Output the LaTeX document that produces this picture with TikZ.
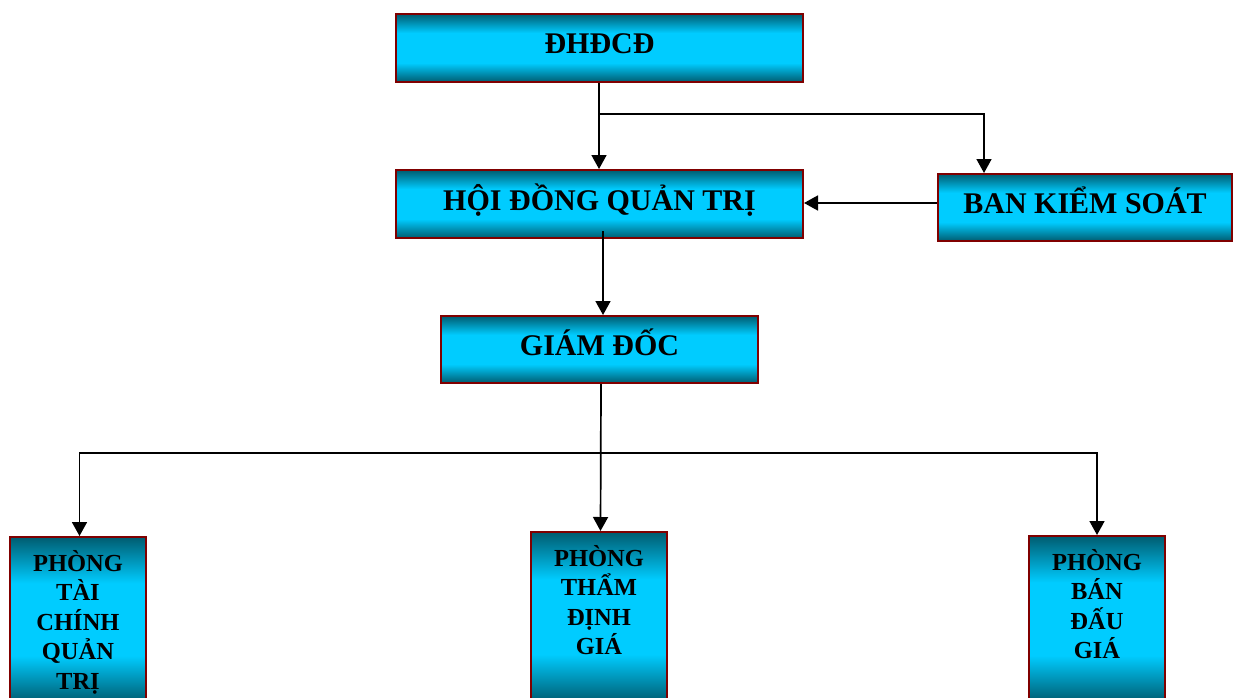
\documentclass[tikz,border=0pt]{standalone}
\usepackage{fontspec}
\setmainfont{Liberation Serif}
\usetikzlibrary{arrows.meta,calc}
\definecolor{boxred}{RGB}{128,0,0}
\definecolor{tealdark}{RGB}{0,92,112}
\definecolor{cyanb}{RGB}{0,204,255}
\pgfdeclareverticalshading{boxshade}{100bp}{color(0bp)=(tealdark); color(25bp)=(tealdark); color(39bp)=(cyanb); color(61bp)=(cyanb); color(75bp)=(tealdark); color(100bp)=(tealdark)}
\tikzset{
  box/.style={draw=boxred, line width=2pt, shading=boxshade, inner sep=0pt, font=\bfseries\fontsize{30}{35}\selectfont, text height=20pt, text depth=8pt},
  subtext/.style={anchor=north, align=center, inner sep=0pt, font=\bfseries\fontsize{24.5}{29.5}\selectfont},
  arr/.style={line width=1.7pt, -{Triangle[length=14pt,width=15pt]}},
}
\begin{document}
\begin{tikzpicture}[x=1pt,y=-1pt]
\useasboundingbox (0,0) rectangle (1233,698);
\clip (0,0) rectangle (1233,698);
\node[box, minimum width=407pt, minimum height=68pt] (dh) at (599.5,48) {ĐHĐCĐ};
\node[box, minimum width=407pt, minimum height=68pt] (hdqt) at (599.5,204) {HỘI ĐỒNG QUẢN TRỊ};
\node[box, minimum width=294pt, minimum height=67pt] (bks) at (1085,207.5) {BAN KIỂM SOÁT};
\node[box, minimum width=317pt, minimum height=67pt] (gd) at (599.5,349.5) {GIÁM ĐỐC};
\node[box, minimum width=136pt, minimum height=165pt] (p1) at (78,619.5) {};
\node[box, minimum width=136pt, minimum height=170pt] (p2) at (599,617) {};
\node[box, minimum width=136pt, minimum height=166pt] (p3) at (1097,619) {};
\node[subtext] (p1t) at ([yshift=-14pt]p1.north) {PHÒNG\\TÀI\\CHÍNH\\QUẢN\\TRỊ};
\node[subtext] (p2t) at ([yshift=-14pt]p2.north) {PHÒNG\\THẨM\\ĐỊNH\\GIÁ};
\node[subtext] (p3t) at ([yshift=-14pt]p3.north) {PHÒNG\\BÁN\\ĐẤU\\GIÁ};
\coordinate (j1) at (599,114);
\coordinate (j2) at (601,453);
\draw[arr] ([xshift=-0.5pt]dh.south) -- ([xshift=-0.5pt]hdqt.north);
\draw[arr] (j1) -| ([xshift=-101pt]bks.north);
\draw[arr] ([yshift=1pt]bks.west |- hdqt.east) -- ([yshift=1pt]hdqt.east);
\draw[arr] ([xshift=3.5pt,yshift=8pt]hdqt.south) -- ([xshift=3.5pt]gd.north);
\draw[arr] ([xshift=1.5pt]gd.south) -- ([xshift=1.5pt]p2.north);
\draw[arr] (j2) -| ([xshift=1.5pt]p1.north);
\draw[arr] (j2) -| (p3.north);
\end{tikzpicture}
\end{document}
